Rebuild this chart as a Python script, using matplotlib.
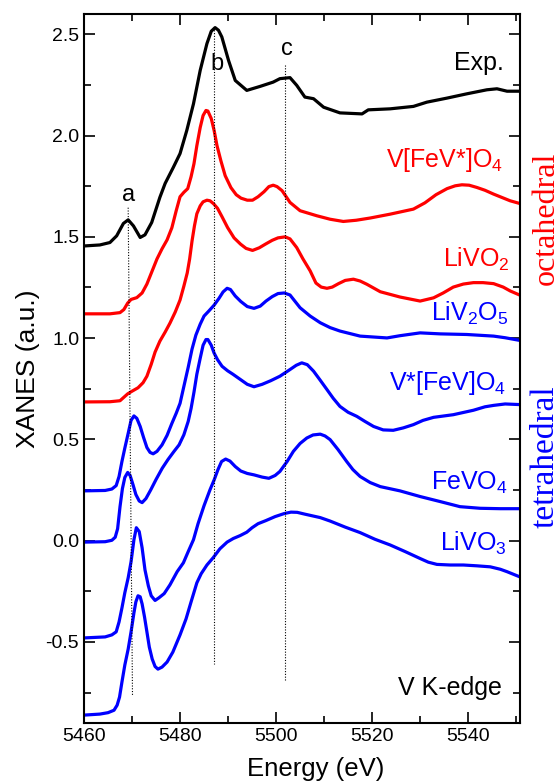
import matplotlib
matplotlib.use("Agg")
import matplotlib.pyplot as plt
from matplotlib.ticker import MultipleLocator

plt.rcParams['font.family'] = ['Liberation Sans', 'DejaVu Sans']
plt.rcParams['axes.unicode_minus'] = False
plt.rcParams['mathtext.fontset'] = 'custom'
plt.rcParams['mathtext.rm'] = 'Liberation Sans'
plt.rcParams['mathtext.it'] = 'Liberation Sans:italic'
plt.rcParams['mathtext.default'] = 'regular'

# experimental spectrum
exp_e = [5460.0, 5463.3, 5465.4, 5466.8, 5468.2, 5469.2, 5470.3, 5471.7, 5472.7, 5474.1,
         5475.8, 5476.9, 5478.6, 5480.0, 5481.4, 5482.8, 5484.2, 5485.6, 5486.5, 5487.3, 5488.0, 5488.7,
         5490.1, 5491.5, 5493.9, 5496.7, 5499.4, 5500.8, 5502.9, 5504.3, 5506.0, 5507.8,
         5509.9, 5513.3, 5517.9, 5519.2, 5523.75, 5528.6, 5531.4, 5535.6, 5539.7, 5543.9,
         5546.0, 5548.1, 5550.7]
exp_v = [1.455, 1.460, 1.472, 1.505, 1.566, 1.584, 1.554, 1.497, 1.510, 1.571,
         1.695, 1.764, 1.843, 1.911, 2.025, 2.157, 2.322, 2.454, 2.515, 2.533, 2.520, 2.487,
         2.371, 2.272, 2.223, 2.243, 2.264, 2.281, 2.286, 2.248, 2.190, 2.182,
         2.140, 2.112, 2.107, 2.127, 2.132, 2.144, 2.165, 2.185, 2.206, 2.226,
         2.231, 2.219, 2.219]

# V[FeV*]O4 (octahedral)
vfev_e = [5460.0, 5465.4, 5467.5, 5468.3, 5469.1, 5469.8, 5471.0, 5472.1, 5473.1, 5474.2,
          5475.2, 5476.25, 5477.3, 5478.3, 5479.2, 5480.0, 5480.8, 5481.6, 5482.3, 5482.9,
          5483.5, 5484.2, 5484.8, 5485.4, 5485.8, 5486.5, 5487.1, 5487.7, 5488.5, 5489.4,
          5490.6, 5491.7, 5492.7, 5494.0, 5495.1, 5496.25, 5497.5, 5498.5, 5499.4, 5500.2,
          5501.25, 5502.9, 5505.0, 5508.5, 5511.25, 5514.0, 5516.7, 5519.6, 5523.75, 5528.6,
          5531.0, 5533.3, 5535.6, 5537.3, 5538.7, 5540.2, 5541.8, 5543.5, 5545.3, 5548.75, 5550.7]
vfev_v = [1.120, 1.120, 1.126, 1.141, 1.173, 1.191, 1.200, 1.223, 1.267, 1.332,
          1.391, 1.441, 1.485, 1.545, 1.629, 1.698, 1.720, 1.738, 1.797, 1.861,
          1.950, 2.040, 2.099, 2.124, 2.121, 2.084, 2.025, 1.950, 1.876, 1.802,
          1.743, 1.708, 1.691, 1.681, 1.681, 1.698, 1.723, 1.748, 1.755, 1.748,
          1.728, 1.670, 1.629, 1.604, 1.587, 1.576, 1.582, 1.593, 1.612, 1.637,
          1.668, 1.708, 1.738, 1.752, 1.757, 1.755, 1.744, 1.730, 1.711, 1.678, 1.665]

# LiVO2 (octahedral)
livo2_e = [5460.0, 5465.4, 5467.5, 5468.3, 5469.1, 5470.0, 5471.25, 5472.3, 5473.1, 5474.0,
           5474.8, 5475.8, 5476.9, 5477.9, 5479.0, 5480.0, 5480.8, 5481.5, 5482.0, 5482.5,
           5483.0, 5483.5, 5484.2, 5484.8, 5485.6, 5486.25, 5487.0, 5487.8, 5488.75, 5489.9,
           5491.25, 5492.6, 5493.75, 5495.1, 5496.5, 5497.85, 5499.2, 5500.4, 5501.9, 5502.9,
           5504.3, 5505.6, 5507.1, 5508.3, 5509.4, 5510.6, 5511.7, 5513.0, 5514.4, 5516.1,
           5517.5, 5518.9, 5521.7, 5525.8, 5530.0, 5532.8, 5534.8, 5536.9, 5539.0, 5541.1,
           5543.1, 5545.3, 5547.3, 5548.75, 5550.7]
livo2_v = [0.685, 0.686, 0.691, 0.708, 0.725, 0.738, 0.755, 0.780, 0.812, 0.871,
           0.931, 0.985, 1.030, 1.074, 1.129, 1.188, 1.257, 1.322, 1.391, 1.480,
           1.554, 1.614, 1.653, 1.673, 1.681, 1.678, 1.663, 1.641, 1.599, 1.546,
           1.495, 1.464, 1.443, 1.433, 1.446, 1.465, 1.483, 1.495, 1.500, 1.490,
           1.447, 1.391, 1.332, 1.272, 1.252, 1.246, 1.252, 1.269, 1.285, 1.291,
           1.282, 1.266, 1.229, 1.203, 1.183, 1.199, 1.223, 1.252, 1.267, 1.274,
           1.274, 1.269, 1.252, 1.233, 1.213]

# LiV2O5 (tetrahedral)
liv2o5_e = [5460.0, 5464.4, 5465.8, 5466.7, 5467.3, 5467.9, 5468.5, 5469.2, 5469.8, 5470.4,
            5471.0, 5471.7, 5472.4, 5473.1, 5473.75, 5474.4, 5475.2, 5476.25, 5477.3, 5478.3,
            5479.2, 5480.0, 5480.8, 5481.7, 5482.5, 5483.3, 5484.2, 5485.0, 5486.0, 5487.1,
            5488.1, 5488.96, 5489.8, 5490.5, 5491.5, 5492.65, 5494.0, 5495.4, 5496.7, 5497.9,
            5499.2, 5500.4, 5501.7, 5502.9, 5505.0, 5507.1, 5509.2, 5511.25, 5513.3, 5517.5,
            5523.1, 5525.8, 5530.0, 5534.2, 5539.7, 5545.3, 5547.7, 5550.7]
liv2o5_v = [0.246, 0.248, 0.255, 0.272, 0.317, 0.391, 0.457, 0.530, 0.594, 0.616,
            0.604, 0.564, 0.510, 0.460, 0.436, 0.429, 0.441, 0.473, 0.520, 0.579,
            0.629, 0.678, 0.762, 0.856, 0.946, 1.015, 1.069, 1.109, 1.134, 1.163,
            1.196, 1.228, 1.246, 1.240, 1.208, 1.181, 1.156, 1.147, 1.158, 1.183,
            1.205, 1.220, 1.223, 1.213, 1.150, 1.109, 1.076, 1.052, 1.035, 1.010,
            1.001, 1.012, 1.026, 1.021, 1.018, 1.010, 1.002, 0.989]

# V*[FeV]O4 (tetrahedral)
vsfev_e = [5460.0, 5464.4, 5465.8, 5466.5, 5467.0, 5467.5, 5468.0, 5468.5, 5469.1, 5469.6,
           5470.2, 5470.8, 5471.5, 5472.1, 5472.9, 5473.9, 5475.0, 5476.3, 5477.5, 5478.75,
           5479.8, 5480.8, 5481.7, 5482.3, 5482.9, 5483.5, 5484.2, 5484.8, 5485.4, 5485.8,
           5486.5, 5487.1, 5487.8, 5488.75, 5489.9, 5491.0, 5492.5, 5494.0, 5495.4, 5497.1,
           5498.9, 5500.8, 5502.9, 5504.2, 5505.35, 5506.5, 5507.8, 5509.2, 5510.6, 5511.9,
           5513.3, 5515.0, 5516.8, 5518.5, 5520.3, 5522.3, 5524.4, 5526.5, 5528.6, 5530.6,
           5532.8, 5536.9, 5541.1, 5543.5, 5545.3, 5547.7, 5550.7]
vsfev_v = [-0.007, -0.005, 0.002, 0.017, 0.059, 0.168, 0.257, 0.312, 0.337, 0.322,
           0.277, 0.228, 0.196, 0.188, 0.208, 0.251, 0.302, 0.358, 0.401, 0.441,
           0.473, 0.523, 0.589, 0.653, 0.733, 0.822, 0.901, 0.965, 0.993, 0.993,
           0.965, 0.926, 0.894, 0.861, 0.839, 0.822, 0.797, 0.772, 0.760, 0.772,
           0.790, 0.812, 0.845, 0.866, 0.878, 0.869, 0.837, 0.792, 0.746, 0.703,
           0.663, 0.634, 0.614, 0.589, 0.564, 0.547, 0.545, 0.557, 0.573, 0.594,
           0.609, 0.622, 0.644, 0.661, 0.668, 0.675, 0.672]

# FeVO4 (tetrahedral)
fevo4_e = [5460.0, 5464.4, 5465.8, 5466.7, 5467.3, 5467.9, 5468.5, 5469.2, 5469.8, 5470.4,
           5470.9, 5471.5, 5472.1, 5472.7, 5473.4, 5474.0, 5474.8, 5475.6, 5476.7, 5477.9,
           5479.4, 5480.7, 5481.7, 5482.8, 5483.75, 5485.0, 5486.25, 5487.1, 5487.9, 5488.65,
           5489.5, 5490.4, 5491.5, 5492.65, 5494.0, 5495.4, 5497.1, 5498.5, 5499.8, 5500.8,
           5502.3, 5503.6, 5505.0, 5506.4, 5507.7, 5509.2, 5510.2, 5511.25, 5512.9, 5514.7,
           5516.0, 5517.5, 5519.6, 5521.7, 5525.8, 5530.0, 5534.2, 5538.3, 5542.5, 5546.7, 5550.7]
fevo4_v = [-0.480, -0.475, -0.465, -0.450, -0.401, -0.332, -0.257, -0.183, -0.104, 0.005,
           0.064, 0.045, -0.035, -0.144, -0.223, -0.272, -0.295, -0.282, -0.261, -0.218,
           -0.153, -0.109, -0.054, 0.005, 0.084, 0.173, 0.252, 0.300, 0.351, 0.391,
           0.403, 0.393, 0.366, 0.344, 0.332, 0.325, 0.314, 0.308, 0.322, 0.342,
           0.391, 0.441, 0.480, 0.507, 0.522, 0.526, 0.517, 0.499, 0.450, 0.391,
           0.351, 0.317, 0.287, 0.267, 0.246, 0.218, 0.193, 0.168, 0.160, 0.158, 0.158]

# LiVO3 (tetrahedral)
livo3_e = [5460.0, 5463.3, 5465.0, 5466.25, 5466.9, 5467.4, 5467.9, 5468.5, 5469.2, 5469.8,
           5470.4, 5470.8, 5471.25, 5471.7, 5472.1, 5472.6, 5473.1, 5473.6, 5474.2, 5474.8,
           5475.4, 5476.25, 5477.3, 5478.5, 5480.0, 5481.25, 5482.3, 5483.5, 5484.4, 5485.6,
           5486.9, 5488.3, 5489.8, 5491.1, 5492.5, 5493.9, 5495.0, 5496.25, 5497.85, 5499.8,
           5501.7, 5503.1, 5504.4, 5506.0, 5509.2, 5511.25, 5514.4, 5517.5, 5520.6, 5523.75,
           5526.9, 5530.0, 5531.7, 5533.5, 5536.25, 5539.0, 5541.8, 5544.6, 5546.7, 5548.1, 5550.7]
livo3_v = [-0.861, -0.856, -0.849, -0.837, -0.812, -0.772, -0.698, -0.614, -0.535, -0.450,
           -0.356, -0.302, -0.272, -0.277, -0.312, -0.376, -0.450, -0.525, -0.584, -0.621,
           -0.634, -0.624, -0.599, -0.550, -0.465, -0.386, -0.302, -0.208, -0.163, -0.120,
           -0.084, -0.040, -0.007, 0.011, 0.025, 0.042, 0.064, 0.084, 0.099, 0.119,
           0.134, 0.141, 0.140, 0.131, 0.114, 0.097, 0.067, 0.040, 0.007, -0.021,
           -0.054, -0.088, -0.106, -0.117, -0.120, -0.120, -0.124, -0.129, -0.141, -0.153, -0.178]

# dotted guide lines a, b, c: (x_top, y_top, x_bottom, y_bottom)
guides = {'a': (5469.2, 1.644, 5470.1, -0.767),
          'b': (5487.15, 2.535, 5487.15, -0.607),
          'c': (5501.9, 2.347, 5501.9, -0.693)}
guide_labels = {'a': (5469.2, 1.678), 'b': (5487.6, 2.322), 'c': (5502.2, 2.396)}

fig = plt.figure(figsize=(5.6, 7.84), dpi=100)
ax = fig.add_axes([0.15, 0.0778, 0.7786, 0.9043])

red = '#ff0000'
blue = '#0000ff'
lw = 2.3
ax.plot(exp_e, exp_v, color='black', lw=lw)
ax.plot(vfev_e, vfev_v, color=red, lw=lw)
ax.plot(livo2_e, livo2_v, color=red, lw=lw)
ax.plot(liv2o5_e, liv2o5_v, color=blue, lw=lw)
ax.plot(vsfev_e, vsfev_v, color=blue, lw=lw)
ax.plot(fevo4_e, fevo4_v, color=blue, lw=lw)
ax.plot(livo3_e, livo3_v, color=blue, lw=lw)

for k, (x0, y0, x1, y1) in guides.items():
    ax.plot([x0, x1], [y0, y1], color='black', lw=0.8, ls=(0, (1, 1.5)))
    lx, ly = guide_labels[k]
    ax.text(lx, ly, k, fontsize=17, ha='center', va='baseline')

fs = 18
ax.text(5547.5, 2.325, 'Exp.', fontsize=fs, ha='right', va='baseline')
ax.text(5547.3, 1.843, 'V[FeV*]O$_4$', fontsize=fs, ha='right', va='baseline', color=red)
ax.text(5548.7, 1.35, 'LiVO$_2$', fontsize=fs, ha='right', va='baseline', color=red)
ax.text(5548.3, 1.084, 'LiV$_2$O$_5$', fontsize=fs, ha='right', va='baseline', color=blue)
ax.text(5548.0, 0.746, 'V*[FeV]O$_4$', fontsize=fs, ha='right', va='baseline', color=blue)
ax.text(5548.3, 0.251, 'FeVO$_4$', fontsize=fs, ha='right', va='baseline', color=blue)
ax.text(5548.1, -0.051, 'LiVO$_3$', fontsize=fs, ha='right', va='baseline', color=blue)
ax.text(5547.0, -0.764, 'V K-edge', fontsize=fs, ha='right', va='baseline')

fig.text(546 / 560, 1 - 218 / 784, 'octahedral', rotation=90, color=red, fontsize=23,
         family='Liberation Serif', ha='center', va='center')
fig.text(545 / 560, 1 - 457 / 784, 'tetrahedral', rotation=90, color=blue, fontsize=24,
         family='Liberation Serif', ha='center', va='center')

ax.set_xlim(5460, 5550.8)
ax.set_ylim(-0.9, 2.6)
ax.xaxis.set_major_locator(MultipleLocator(20))
ax.xaxis.set_minor_locator(MultipleLocator(10))
ax.yaxis.set_major_locator(MultipleLocator(0.5))
ax.yaxis.set_minor_locator(MultipleLocator(0.25))
ax.tick_params(which='both', direction='in', top=True, right=True, labelsize=14, width=1.2)
ax.tick_params(which='major', length=8)
ax.tick_params(which='minor', length=5)
for s in ax.spines.values():
    s.set_linewidth(1.5)

ax.set_xlabel('Energy (eV)', fontsize=18.5)
ax.xaxis.set_label_coords(0.532, -0.048)
ax.set_ylabel('XANES (a.u.)', fontsize=19)

fig.savefig('out.png', dpi=100)
